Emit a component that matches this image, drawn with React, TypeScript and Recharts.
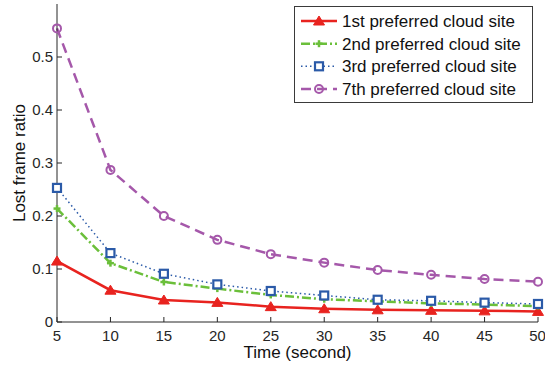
import React from "react";
import { LineChart, Line, XAxis, YAxis } from "recharts";

// Time instants (seconds)
const times = [5, 10, 15, 20, 25, 30, 35, 40, 45, 50];

// Lost frame ratio for each preferred cloud site
const site1st = [0.115, 0.06, 0.0415, 0.037, 0.029, 0.025, 0.023, 0.022, 0.021, 0.02];
const site2nd = [0.214, 0.111, 0.0755, 0.063, 0.051, 0.043, 0.039, 0.035, 0.033, 0.03];
const site3rd = [0.253, 0.13, 0.091, 0.071, 0.0585, 0.05, 0.042, 0.04, 0.0365, 0.034];
const site7th = [0.554, 0.287, 0.2, 0.155, 0.128, 0.112, 0.098, 0.089, 0.081, 0.076];

const seriesNames = [
  "1st preferred cloud site",
  "2nd preferred cloud site",
  "3rd preferred cloud site",
  "7th preferred cloud site",
];

const xTicks = [5, 10, 15, 20, 25, 30, 35, 40, 45, 50];
const yTicks = [0, 0.1, 0.2, 0.3, 0.4, 0.5];

const data = times.map((t, i) => ({
  t,
  s1: site1st[i],
  s2: site2nd[i],
  s3: site3rd[i],
  s7: site7th[i],
}));

const FONT = "'Liberation Sans', Arial, Helvetica, sans-serif";
const AXIS = "#262626";

type MarkerKind = "triangle" | "plus" | "square" | "circle";

const styles: { key: string; color: string; width: number; dash?: string; marker: MarkerKind }[] = [
  { key: "s1", color: "#e8231f", width: 2.5, marker: "triangle" },
  { key: "s2", color: "#6bbf3a", width: 2.5, dash: "9 3 2 3", marker: "plus" },
  { key: "s3", color: "#2b5aa8", width: 1.5, dash: "1.5 3", marker: "square" },
  { key: "s7", color: "#a558aa", width: 2.5, dash: "10 6", marker: "circle" },
];

function Marker({ kind, cx, cy, color }: { kind: MarkerKind; cx: number; cy: number; color: string }) {
  if (cx == null || cy == null) return null;
  switch (kind) {
    case "triangle":
      return (
        <polygon
          points={`${cx},${cy - 5} ${cx - 5.5},${cy + 4} ${cx + 5.5},${cy + 4}`}
          fill={color}
          stroke={color}
          strokeWidth={1}
        />
      );
    case "plus":
      return (
        <g stroke={color} strokeWidth={2.5}>
          <line x1={cx - 3.5} y1={cy} x2={cx + 3.5} y2={cy} />
          <line x1={cx} y1={cy - 3.5} x2={cx} y2={cy + 3.5} />
        </g>
      );
    case "square":
      return <rect x={cx - 4} y={cy - 4} width={8} height={8} fill="#fff" stroke={color} strokeWidth={2.2} />;
    case "circle":
      return <circle cx={cx} cy={cy} r={4} fill="none" stroke={color} strokeWidth={2} />;
  }
  return null;
}

function makeDot(kind: MarkerKind, color: string) {
  return (props: any) => <Marker key={`${kind}-${props.index}`} kind={kind} cx={props.cx} cy={props.cy} color={color} />;
}

function LegendBox() {
  const rows = [15, 37.7, 60.3, 83];
  return (
    <svg width={240} height={98} style={{ display: "block" }}>
      <rect x={0.5} y={0.5} width={238} height={96} fill="#fff" stroke="#3a3a3a" strokeWidth={1} />
      {styles.map((s, i) => (
        <g key={s.key}>
          <line
            x1={7}
            y1={rows[i]}
            x2={43}
            y2={rows[i]}
            stroke={s.color}
            strokeWidth={s.width}
            strokeDasharray={s.dash}
          />
          <Marker kind={s.marker} cx={25} cy={rows[i]} color={s.color} />
          <text x={48} y={rows[i] + 6} fontSize={17} fontFamily={FONT} fill="#111">
            {seriesNames[i]}
          </text>
        </g>
      ))}
    </svg>
  );
}

export default function App() {
  return (
    <div style={{ position: "absolute", left: 0, top: 0, width: 545, height: 369 }}>
      <LineChart width={545} height={369} data={data} margin={{ top: 4, right: 7, bottom: 0, left: 0 }}>
        <XAxis
          xAxisId="main"
          dataKey="t"
          type="number"
          domain={[5, 50]}
          ticks={xTicks}
          height={47}
          tickSize={-5}
          tickMargin={13}
          stroke={AXIS}
          tick={{ fontSize: 15, fill: AXIS, fontFamily: FONT }}
          label={{
            value: "Time (second)",
            position: "insideBottom",
            offset: 11,
            fontSize: 17,
            fill: "#111",
            fontFamily: FONT,
          }}
        />
        <XAxis
          xAxisId="top"
          orientation="top"
          dataKey="t"
          type="number"
          domain={[5, 50]}
          ticks={xTicks}
          height={0}
          tickSize={-5}
          stroke={AXIS}
          tickFormatter={() => ""}
        />
        <YAxis
          yAxisId="main"
          type="number"
          domain={[0, 0.6]}
          ticks={yTicks}
          width={57}
          tickSize={-5}
          tickMargin={9}
          stroke={AXIS}
          tick={{ fontSize: 15, fill: AXIS, fontFamily: FONT }}
          label={() => (
            <text
              x={25}
              y={163}
              transform="rotate(-90, 25, 163)"
              textAnchor="middle"
              fontSize={17}
              fontFamily={FONT}
              fill="#111"
            >
              Lost frame ratio
            </text>
          )}
        />
        <YAxis
          yAxisId="right"
          orientation="right"
          type="number"
          domain={[0, 0.6]}
          ticks={yTicks}
          width={0}
          tickSize={-5}
          stroke={AXIS}
          tickFormatter={() => ""}
        />
        {/* invisible series that binds the top and right box axes */}
        <Line
          xAxisId="top"
          yAxisId="right"
          dataKey="s1"
          stroke="none"
          dot={false}
          activeDot={false}
          legendType="none"
          isAnimationActive={false}
        />
        {styles.map((s, i) => (
          <Line
            key={s.key}
            xAxisId="main"
            yAxisId="main"
            type="linear"
            dataKey={s.key}
            name={seriesNames[i]}
            stroke={s.color}
            strokeWidth={s.width}
            strokeDasharray={s.dash}
            dot={makeDot(s.marker, s.color)}
            activeDot={false}
            isAnimationActive={false}
          />
        ))}
      </LineChart>
      <div style={{ position: "absolute", left: 294, top: 6 }}>
        <LegendBox />
      </div>
    </div>
  );
}
